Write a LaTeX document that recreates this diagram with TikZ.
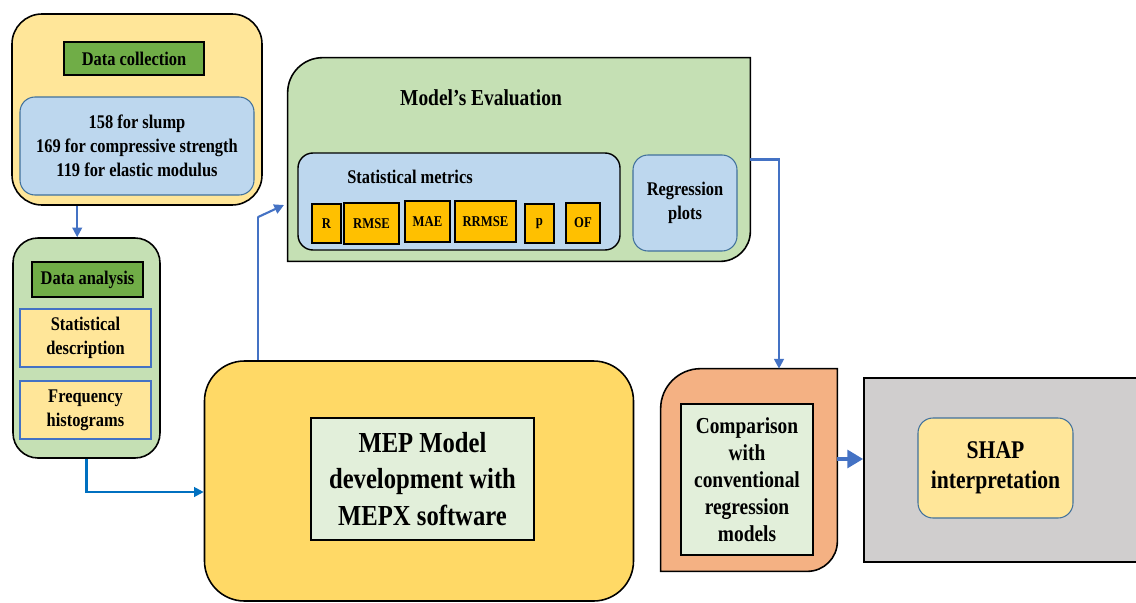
\documentclass[tikz,border=0pt]{standalone}
\usepackage{fontspec}
\setmainfont{Liberation Serif}[FakeStretch=0.85]
\usetikzlibrary{arrows.meta, positioning}
\definecolor{figYl}{RGB}{255,230,153}
\definecolor{figGd}{RGB}{112,173,71}
\definecolor{figGl}{RGB}{197,224,180}
\definecolor{figBl}{RGB}{189,215,238}
\definecolor{figGo}{RGB}{255,217,102}
\definecolor{figOr}{RGB}{255,192,0}
\definecolor{figPg}{RGB}{226,239,218}
\definecolor{figSa}{RGB}{244,177,131}
\definecolor{figGr}{RGB}{208,206,206}
\definecolor{figB}{RGB}{68,114,196}
\definecolor{figBd}{RGB}{0,112,192}
\definecolor{figEdge}{RGB}{65,113,156}
\newdimen\pxu \pxu=0.02cm
\tikzset{
  boxsize/.style 2 args={minimum width=#1\pxu, minimum height=#2\pxu},
  panel/.style={draw=black, line width=0.9pt, inner sep=0pt},
  tag/.style={draw=black, line width=0.8pt, inner sep=0pt, align=center,
    font=\fontsize{11}{13.6}\selectfont\bfseries},
  inbox/.style={draw=figEdge, line width=0.6pt, inner sep=0pt, align=center,
    rounded corners=15\pxu, font=\fontsize{11}{13.6}\selectfont\bfseries},
  metric/.style={tag, fill=figOr, font=\fontsize{8.5}{10}\selectfont\bfseries},
  flow/.style={draw=figB, line width=1.2pt, -{Triangle[length=5.5pt, width=5.5pt]}}
}
\begin{document}
\begin{tikzpicture}[x=\pxu, y=-\pxu]
\useasboundingbox (0,0) rectangle (1136,602);
% data collection
\node[panel, fill=figYl, rounded corners=30\pxu, boxsize={250}{191}] (collect) at (137,109.5) {};
\node[tag, fill=figGd, boxsize={140}{33}] (collecttitle) at (134,58.5) {Data collection};
\node[inbox, fill=figBl, boxsize={234}{98}] (collectdata) at (137,146)
  {158 for slump\\169 for compressive strength\\119 for elastic modulus};
% data analysis
\node[panel, fill=figGl, rounded corners=25\pxu, boxsize={147}{220}] (analysis) at (86.5,348) {};
\node[tag, fill=figGd, boxsize={111}{35}] (analysistitle) at (87.5,279.5) {Data analysis};
\node[tag, draw=figB, fill=figYl, boxsize={131}{58}] (statdesc) at (85.5,338) {Statistical\\description};
\node[tag, draw=figB, fill=figYl, boxsize={131}{58}] (freqhist) at (85.5,410) {Frequency\\histograms};
% MEP model
\node[panel, fill=figGo, rounded corners=40\pxu, boxsize={429}{240}] (mep) at (419,481) {};
\node[tag, fill=figPg, boxsize={223}{122}, font=\fontsize{16.5}{21}\selectfont\bfseries] (meptext) at (422.5,479)
  {MEP Model\\development with\\MEPX software};
% model evaluation, corners rounded top left and bottom right
\node[boxsize={462}{203}, inner sep=0pt] (eval) at (519,159.5) {};
\filldraw[panel, fill=figGl] (eval.west) [rounded corners=35\pxu] -- (eval.north west)
  [sharp corners] -- (eval.north east) -- (eval.east) [rounded corners=30\pxu] -- (eval.south east)
  [sharp corners] -- (eval.south west) -- cycle;
\node[font=\fontsize{13}{15}\selectfont\bfseries] (evaltitle) at (481,98) {Model’s Evaluation};
\node[inbox, draw=black, line width=0.8pt, fill=figBl, boxsize={322}{97}] (metrics) at (459,201.5) {};
\node[font=\fontsize{11}{13.6}\selectfont\bfseries] (metricstitle) at (410,177) {Statistical metrics};
\foreach \lbl/\cx/\cy/\w/\h in {R/326.5/223.5/29/39, RMSE/371.5/223.5/55/41, MAE/427.5/221.5/45/41,
    RRMSE/485.5/221.5/61/41, p/539.5/223.5/29/39, OF/583/223/34/40}
  \node[metric, boxsize={\w}{\h}] (m-\lbl) at (\cx,\cy) {\lbl};
\node[inbox, fill=figBl, boxsize={104}{96}] (regplots) at (685,203) {Regression\\plots};
% comparison
\node[boxsize={176}{202}, inner sep=0pt] (comp) at (749,470) {};
\filldraw[panel, fill=figSa] (comp.west) [rounded corners=40\pxu] -- (comp.north west)
  [sharp corners] -- (comp.north east) -- (comp.east) [rounded corners=30\pxu] -- (comp.south east)
  [sharp corners] -- (comp.south west) -- cycle;
\node[tag, fill=figPg, boxsize={132}{151}, font=\fontsize{13}{15.3}\selectfont\bfseries] (comptext) at (747,479.5)
  {Comparison\\with\\conventional\\regression\\models};
% SHAP
\node[panel, fill=figGr, boxsize={281}{184}] (shap) at (1004.5,470) {};
\node[inbox, fill=figYl, boxsize={155}{100}, font=\fontsize{14.5}{17}\selectfont\bfseries] (shaptext) at (995.5,468)
  {SHAP\\interpretation};
% connectors
\coordinate (evalin) at (284,205);
\draw[flow] ([xshift=66\pxu]collect.south west) -- ([xshift=66\pxu]collect.south west |- analysis.north);
\draw[flow, draw=figBd] (analysis.south) |- ([yshift=-11\pxu]mep.west);
\draw[flow, -] ([xshift=54\pxu]mep.north west) -- ++(0,-143) coordinate (bend);
\draw[flow] (bend) -- (evalin);
\draw[flow] (eval.east) -| ([xshift=30\pxu]comp.north);
\draw[flow, line width=2.3pt, -{Triangle[length=9pt, width=10pt]}] ([yshift=11\pxu]comp.east) -- ([yshift=11\pxu]comp.east -| shap.west);
\end{tikzpicture}
\end{document}
